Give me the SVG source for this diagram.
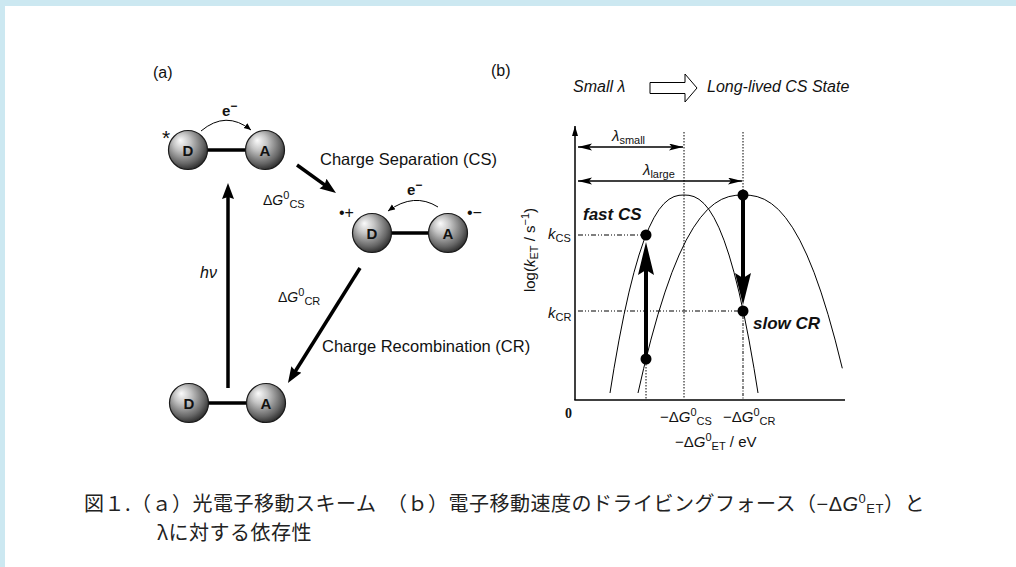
<svg xmlns="http://www.w3.org/2000/svg" width="1016" height="567" viewBox="0 0 1016 567">
<style>
.t{font-family:"Liberation Sans",Arial,sans-serif;fill:#111}
.it{font-style:italic}
.bi{font-style:italic;font-weight:bold}
.sl{font-family:"Liberation Sans",Arial,sans-serif;font-weight:bold;font-size:15px;fill:#111;text-anchor:middle}
.cap{font-family:"Noto Sans CJK JP","Noto Sans",sans-serif;font-size:20px;fill:#222;letter-spacing:0.5px}
.lat{font-family:"Liberation Sans",Arial,sans-serif}
.thick{stroke:#000;stroke-width:3.5;fill:none}
.bond{stroke:#000;stroke-width:3.3}
.thin{stroke:#000;stroke-width:1;fill:none}
.dd{stroke:#000;stroke-width:1;stroke-dasharray:3 1.5 1 1.5;fill:none}
.dot{stroke:#000;stroke-width:1;stroke-dasharray:1.5 1.5;fill:none}
.ddd{stroke:#000;stroke-width:1.2;stroke-dasharray:5 2 1 2 1 2;fill:none}
.sph{fill:url(#sph);stroke:#1a1a1a;stroke-width:1.2}
</style>
<defs>
<radialGradient id="sph" cx="0.42" cy="0.38" r="0.62" fx="0.3" fy="0.25">
<stop offset="0" stop-color="#fbfbfb"/>
<stop offset="0.35" stop-color="#c4c4c4"/>
<stop offset="0.8" stop-color="#666"/>
<stop offset="1" stop-color="#333"/>
</radialGradient>
<marker id="ah" markerUnits="userSpaceOnUse" markerWidth="18" markerHeight="14" refX="8" refY="6" orient="auto">
<path d="M0,0 L16,6 L0,12 L2,6 z" fill="#000"/>
</marker>
<marker id="dh" markerUnits="userSpaceOnUse" markerWidth="16" markerHeight="8" refX="14" refY="3.5" orient="auto-start-reverse">
<path d="M0,0 L14,3.5 L0,7 L3,3.5 z" fill="#000"/>
</marker>
<marker id="yh" markerUnits="userSpaceOnUse" markerWidth="12" markerHeight="8" refX="10" refY="3" orient="auto">
<path d="M0,0 L10,3 L0,6 z" fill="#000"/>
</marker>
<marker id="sh" markerUnits="userSpaceOnUse" markerWidth="9" markerHeight="7" refX="7" refY="3" orient="auto">
<path d="M0,0 L7,3 L0,6 z" fill="#000"/>
</marker>
</defs>
<rect x="0" y="0" width="1016" height="567" fill="#fff"/>
<rect x="0" y="0" width="1016" height="6" fill="#cce8f1"/>
<rect x="0" y="0" width="5" height="567" fill="#cce8f1"/>

<!-- panel (a) -->
<text class="t" x="153" y="78" font-size="16">(a)</text>

<g id="node-excited">
<line class="bond" x1="206" y1="150" x2="247" y2="150"/>
<circle class="sph" cx="188" cy="150" r="19.5"/>
<circle class="sph" cx="265" cy="150" r="19.5"/>
<text class="sl" x="188" y="155.5">D</text>
<text class="sl" x="265" y="155.5">A</text>
<text class="t" x="166" y="145" font-size="21" text-anchor="middle">*</text>
<text class="t" x="222" y="116" font-size="15" font-weight="bold">e<tspan dy="-6" font-size="12">−</tspan></text>
<path class="thin" d="M201,131 Q226,110 251,130" marker-end="url(#sh)"/>
</g>

<g id="node-cs">
<line class="bond" x1="390" y1="233" x2="430" y2="233"/>
<circle class="sph" cx="372" cy="233" r="19.5"/>
<circle class="sph" cx="448" cy="233" r="19.5"/>
<text class="sl" x="372" y="238.5">D</text>
<text class="sl" x="448" y="238.5">A</text>
<text class="t" x="339" y="218" font-size="16">•+</text>
<text class="t" x="467" y="218" font-size="16">•−</text>
<text class="t" x="407" y="195" font-size="15" font-weight="bold">e<tspan dy="-6" font-size="12">−</tspan></text>
<path class="thin" d="M438,207 Q414,192 388,211" marker-end="url(#sh)"/>
</g>

<g id="node-ground">
<line class="bond" x1="207" y1="403" x2="248" y2="403"/>
<circle class="sph" cx="189" cy="403" r="19.5"/>
<circle class="sph" cx="266" cy="403" r="19.5"/>
<text class="sl" x="189" y="408.5">D</text>
<text class="sl" x="266" y="408.5">A</text>
</g>

<g id="connectors-a">
<line class="thick" x1="297" y1="165" x2="329.5" y2="188.3" marker-end="url(#ah)"/>
<line class="thick" x1="360" y1="268" x2="292.2" y2="376.2" marker-end="url(#ah)"/>
<line class="thick" x1="228" y1="388" x2="228" y2="191" marker-end="url(#ah)"/>
</g>

<g id="labels-a">
<text class="t" x="320" y="165" font-size="16.5">Charge Separation (CS)</text>
<text class="t" x="263" y="205" font-size="14">Δ<tspan class="it">G</tspan><tspan dy="-6" font-size="11">0</tspan><tspan dy="9" font-size="11">CS</tspan></text>
<text class="t it" x="200" y="278" font-size="16">hν</text>
<text class="t" x="278" y="302" font-size="14">Δ<tspan class="it">G</tspan><tspan dy="-6" font-size="11">0</tspan><tspan dy="9" font-size="11">CR</tspan></text>
<text class="t" x="322" y="352" font-size="16.5">Charge Recombination (CR)</text>
</g>

<!-- panel (b) -->
<text class="t" x="491" y="76" font-size="16">(b)</text>
<text class="t it" x="573" y="92" font-size="16">Small λ</text>
<path d="M650,82.5 H685 V74 L697,88 L685,102 V93.5 H650 z" fill="#fff" stroke="#000" stroke-width="1"/>
<text class="t it" x="707" y="92" font-size="16">Long-lived CS State</text>

<g id="axes">
<line x1="575" y1="400" x2="575" y2="126" stroke="#000" stroke-width="1.5" marker-end="url(#yh)"/>
<line x1="574.3" y1="400" x2="845" y2="400" stroke="#000" stroke-width="1.5"/>
</g>

<g id="guides">
<line class="dot" x1="684" y1="132" x2="684" y2="399"/>
<line class="dot" x1="743" y1="132" x2="743" y2="190"/>
<line class="dd" x1="743" y1="316" x2="743" y2="399"/>
<line class="dot" x1="646" y1="364" x2="646" y2="399"/>
<line class="ddd" x1="578" y1="235" x2="641" y2="235"/>
<line class="ddd" x1="578" y1="311" x2="738" y2="311"/>
<line x1="578" y1="147" x2="683" y2="147" stroke="#000" stroke-width="1.3" marker-start="url(#dh)" marker-end="url(#dh)"/>
<line x1="578" y1="181" x2="742" y2="181" stroke="#000" stroke-width="1.3" marker-start="url(#dh)" marker-end="url(#dh)"/>
</g>

<g id="curves">
<polyline class="thin" points="610,393 614,368.3 619,340.1 624,314.7 629,292.1 634,272.3 639,255 644,240.2 649,227.8 654,217.7 659,209.6 664,203.6 669,199.3 674,196.6 679,195.3 684,195 689,195.3 694,196.6 699,199.3 704,203.6 709,209.6 714,217.7 719,227.8 724,240.2 729,255 734,272.3 739,292.1 744,314.7 749,340.1 754,368.3 758,393"/>
<polyline class="thin" points="638,393 643.7,368.3 650.8,340.1 657.9,314.7 665,292.1 672,272.3 679.1,255 686.2,240.2 693.3,227.8 700.4,217.7 707.5,209.6 714.6,203.6 721.7,199.3 728.8,196.6 735.9,195.3 743,195 750.1,195.3 757.2,196.6 764.3,199.3 771.4,203.6 778.5,209.6 785.6,217.7 792.7,227.8 799.8,240.2 806.9,255 814,272.3 821,292.1 828.1,314.7 835.2,340.1 842.3,368.3"/>
</g>

<g id="rate-arrows">
<rect x="644" y="270" width="4" height="89" fill="#000"/>
<polygon points="646,242 654,275 646,270 638,275" fill="#000"/>
<rect x="741" y="195" width="4" height="84" fill="#000"/>
<polygon points="743,305 751,273 743,278 735,273" fill="#000"/>
<circle cx="646" cy="235" r="5.5" fill="#000"/>
<circle cx="646" cy="359" r="5.5" fill="#000"/>
<circle cx="743" cy="195" r="5.5" fill="#000"/>
<circle cx="743" cy="311" r="5.5" fill="#000"/>
</g>

<g id="labels-b">
<text class="t it" x="612" y="141" font-size="15">λ<tspan dy="3" font-size="11" font-style="normal">small</tspan></text>
<text class="t it" x="643" y="175" font-size="15">λ<tspan dy="3" font-size="11" font-style="normal">large</tspan></text>
<text class="t bi" x="583" y="220" font-size="17">fast CS</text>
<text class="t bi" x="753" y="329" font-size="17">slow CR</text>
<text class="t it" x="548" y="239" font-size="15">k<tspan dy="3" font-size="11" font-style="normal">CS</tspan></text>
<text class="t it" x="548" y="318" font-size="15">k<tspan dy="3" font-size="11" font-style="normal">CR</tspan></text>
<text x="565" y="418" font-family="'Liberation Serif',serif" font-weight="bold" font-size="14" fill="#111">0</text>
<text class="t" x="660" y="422" font-size="15">−Δ<tspan class="it">G</tspan><tspan dy="-6" font-size="11">0</tspan><tspan dy="9" font-size="11">CS</tspan></text>
<text class="t" x="723" y="422" font-size="15">−Δ<tspan class="it">G</tspan><tspan dy="-6" font-size="11">0</tspan><tspan dy="9" font-size="11">CR</tspan></text>
<text class="t" x="675" y="447" font-size="15">−Δ<tspan class="it">G</tspan><tspan dy="-6" font-size="11">0</tspan><tspan dy="9" font-size="11">ET</tspan><tspan dy="-3"> / eV</tspan></text>
<text class="t" transform="translate(535,250) rotate(-90)" x="0" y="0" font-size="15" text-anchor="middle">log(<tspan class="it">k</tspan><tspan dy="3" font-size="11">ET</tspan><tspan dy="-3"> / s</tspan><tspan dy="-6" font-size="11">−1</tspan><tspan dy="6">)</tspan></text>
</g>

<!-- caption -->
<text class="cap" x="84" y="511">図１.（ａ）光電子移動スキーム　（ｂ）電子移動速度のドライビングフォース（<tspan class="lat">−Δ</tspan><tspan class="lat" font-style="italic">G</tspan><tspan class="lat" font-size="13" dy="-8">0</tspan><tspan class="lat" font-size="13" dy="10">ET</tspan><tspan dy="-2">）と</tspan></text>
<text class="cap" x="157" y="540">λに対する依存性</text>
</svg>
